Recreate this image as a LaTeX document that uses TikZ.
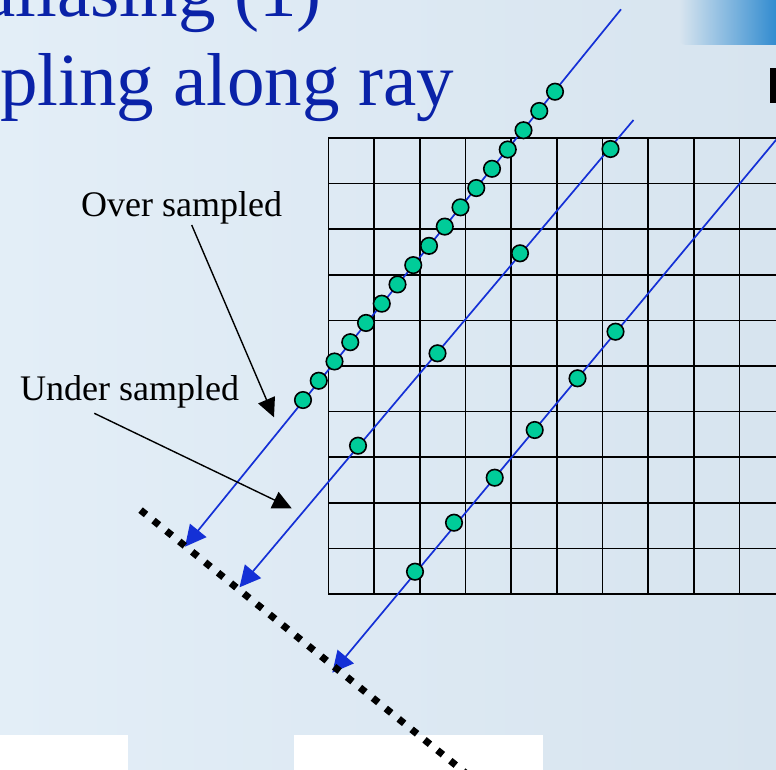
\documentclass[tikz,border=0pt]{standalone}
\usepackage{fontspec}
\setmainfont{Liberation Serif}
\usetikzlibrary{arrows.meta}
\definecolor{bgL}{HTML}{E3EEF7}
\definecolor{bgR}{HTML}{D7E4EF}
\definecolor{titleblue}{HTML}{0A22A8}
\definecolor{rayblue}{HTML}{1430D6}
\definecolor{sampfill}{HTML}{00CC99}
\definecolor{logoblue}{HTML}{1A7FCB}
\begin{document}
\begin{tikzpicture}[x=1pt,y=-1pt,
  raypath/.style={draw=rayblue, line width=1.7pt, -{Triangle[length=21pt,width=21pt]}},
  samp/.style={circle, draw=black, line width=1.6pt, fill=sampfill, minimum size=16.5pt, inner sep=0pt},
  gridline/.style={black, line width=1.7pt, line cap=rect},
  pointer/.style={draw=black, line width=1.4pt, -{Triangle[length=19pt,width=18pt]}},
  lbl/.style={font=\fontsize{36}{40}\selectfont, inner sep=0pt, anchor=base west},
  ttl/.style={font=\fontsize{75}{89}\selectfont, text=titleblue, inner sep=0pt, anchor=base west},
  whitebox/.style={fill=white, draw=none},
  dotline/.style={draw=black, line width=7pt, dash pattern=on 7pt off 9.6pt}]
\useasboundingbox (0,0) rectangle (776,770);
\clip (0,0) rectangle (776,770);
% background
\shade[left color=bgL, right color=bgR] (0,0) rectangle (776,770);
% logo fragment top right
\shade[left color=bgR, middle color=logoblue!50!bgR, right color=logoblue, rounded corners=6pt] (680,-10) -- (790,-10) -- (790,45) -- (680,45) -- cycle;
\fill[black] (770,68) rectangle (776,103);
% title
\node[ttl] (t1) at (-18,17) {aliasing (1)};
\node[ttl] (t2) at (0,106) {pling along ray};
% grid
\foreach \i in {0,...,10} {
  \draw[gridline] ({328.5+45.65*\i},138) -- ({328.5+45.65*\i},594);
}
\foreach \j in {0,...,10} {
  \draw[gridline] (328.5,{138+45.6*\j}) -- (800,{138+45.6*\j});
}
% rays
\coordinate (r1s) at (621,9.3);
\coordinate (r1e) at (185,546.7);
\coordinate (r2s) at (633.5,120);
\coordinate (r2e) at (239.5,587.3);
\coordinate (r3s) at (790,123.2);
\coordinate (r3e) at (332.3,672.7);
\draw[raypath] (r1s) -- (r1e);
\draw[raypath] (r2s) -- (r2e);
\draw[raypath] (r3s) -- (r3e);
% samples on ray 1 (over sampled)
\foreach \i in {0,...,16} {
  \node[samp] (a\i) at ({555-15.75*\i},{91.7+19.27*\i}) {};
}
% samples on ray 2
\node[samp] (b1) at (610.5,149) {};
\node[samp] (b2) at (520,253.3) {};
\node[samp] (b3) at (437.5,353.3) {};
\node[samp] (b4) at (358,445.7) {};
% samples on ray 3
\node[samp] (c1) at (615.5,331.7) {};
\node[samp] (c2) at (577.5,378.3) {};
\node[samp] (c3) at (534.7,430) {};
\node[samp] (c4) at (494.7,477.7) {};
\node[samp] (c5) at (454,522.7) {};
\node[samp] (c6) at (415,571.7) {};
% labels and pointers
\node[lbl] (over) at (81,216) {Over sampled};
\node[lbl] (under) at (20,400.7) {Under sampled};
\coordinate (overs) at (191.7,225);
\coordinate (overt) at (274,417.3);
\coordinate (unders) at (94.3,413.3);
\coordinate (undert) at (291.7,508.3);
\draw[pointer] (overs) -- (overt);
\draw[pointer] (unders) -- (undert);
% white boxes at the bottom
\fill[whitebox] (0,735) rectangle (128,770);
\fill[whitebox] (294,735) rectangle (543,770);
% image plane (dotted)
\coordinate (d1) at (140.6,510.1);
\coordinate (d2) at (468,775);
\draw[dotline] (d1) -- (d2);
\end{tikzpicture}
\end{document}
